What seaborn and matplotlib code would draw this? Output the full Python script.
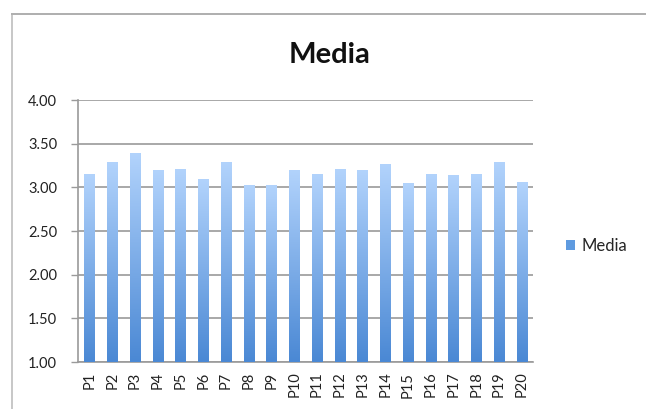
import numpy as np
import pandas as pd
import matplotlib
matplotlib.use("Agg")
import matplotlib.pyplot as plt
import seaborn as sns
from matplotlib.patches import Patch, Rectangle
from matplotlib.colors import LinearSegmentedColormap

labels = [f"P{i}" for i in range(1, 21)]
media = [3.15, 3.28, 3.39, 3.19, 3.20, 3.09, 3.28, 3.02, 3.02, 3.19,
         3.15, 3.20, 3.19, 3.26, 3.04, 3.15, 3.13, 3.15, 3.28, 3.06]
y_ticks = [1.00, 1.50, 2.00, 2.50, 3.00, 3.50, 4.00]

TOP_C = "#b2d3fc"
BOT_C = "#4a88d4"
GRID = "#9a9a9a"
LABEL_FS = 10.5

sns.set_theme(style="white")
plt.rcParams["font.family"] = ["Lato", "DejaVu Sans"]

df = pd.DataFrame({"punto": labels, "media": media})

fig = plt.figure(figsize=(6.47, 4.09), dpi=100)
ax = fig.add_axes([0.1206, 0.1149, 0.7034, 0.6406])

sns.barplot(data=df, x="punto", y="media", color=BOT_C, width=0.44, ax=ax)

# vertical gradient inside each bar
cmap = LinearSegmentedColormap.from_list("bar", [BOT_C, TOP_C])
grad = np.linspace(0, 1, 256).reshape(-1, 1)
for p in ax.patches:
    x0 = p.get_x()
    x1 = x0 + p.get_width()
    h = p.get_height()
    p.set_visible(False)
    ax.imshow(grad, cmap=cmap, origin="lower", aspect="auto",
              extent=(x0, x1, 1.0, h), zorder=3, interpolation="bilinear")
ax.set_xlim(-0.5, len(labels) - 0.5)
ax.set_ylim(1.0, 4.0)

ax.set_yticks(y_ticks)
ax.set_yticklabels([f"{v:.2f}" for v in y_ticks], fontsize=LABEL_FS, color="#222222")
ax.yaxis.grid(True, color=GRID, linewidth=1.2, zorder=1)
ax.set_axisbelow(True)

ax.set_xticks(range(len(labels)))
ax.set_xticklabels(labels, rotation=90, fontsize=LABEL_FS, color="#222222")
ax.set_xticks(np.arange(-0.5, len(labels), 1), minor=True)
ax.tick_params(axis="x", which="major", length=0, pad=7)
ax.tick_params(axis="x", which="minor", length=4, color=GRID, width=1, direction="out")
ax.tick_params(axis="y", length=5, color=GRID, width=1, direction="out", pad=10, left=True)
ax.set_xlabel("")
ax.set_ylabel("")

for side in ["top", "right"]:
    ax.spines[side].set_visible(False)
for side in ["left", "bottom"]:
    ax.spines[side].set_color(GRID)
    ax.spines[side].set_linewidth(1.2)

fig.text(0.509, 1 - 55 / 409, "Media", ha="center", va="center",
         fontsize=21, fontweight="bold", color="#111111")

handle = Patch(facecolor="#5f9be0", edgecolor="none")
fig.legend([handle], ["Media"], loc="center left", bbox_to_anchor=(0.875, 1 - 246 / 409),
           frameon=False, fontsize=12, handlelength=0.55, handleheight=0.55,
           handletextpad=0.4, borderpad=0, borderaxespad=0)

# outer chart frame as thin filled strips (left and top edges of the crop)
W, H = 647, 409
fig.patches.append(Rectangle((11 / W, 0), 2 / W, 1 - 14 / H,
                             transform=fig.transFigure, facecolor="#c8c8c8",
                             edgecolor="none", linewidth=0))
fig.patches.append(Rectangle((11 / W, 1 - 15 / H), 635 / W, 2 / H,
                             transform=fig.transFigure, facecolor="#b0b0b0",
                             edgecolor="none", linewidth=0))

fig.savefig("out.png", dpi=100)
